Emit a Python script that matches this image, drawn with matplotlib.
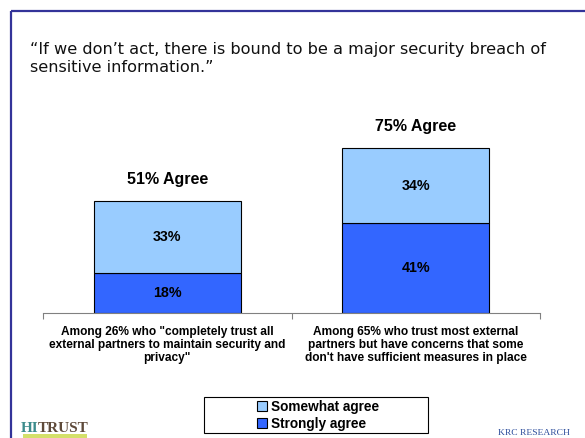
import matplotlib.pyplot as plt
import matplotlib.patches as mpatches
from matplotlib.transforms import blended_transform_factory

# survey results
groups = [
    'Among 26% who "completely trust all\nexternal partners to maintain security and\nprivacy"',
    "Among 65% who trust most external\npartners but have concerns that some\ndon't have sufficient measures in place",
]
strongly = [18, 41]
somewhat = [33, 34]
totals = ['51% Agree', '75% Agree']

title = ("\u201cIf we don\u2019t act, there is bound to be a major security breach of\n"
         "sensitive information.\u201d")

light = '#99ccff'
dark = '#3366ff'
frame_col = '#333399'

fig = plt.figure(figsize=(5.85, 4.38), dpi=100)
fig.patch.set_facecolor('white')

# slide frame: top and left rules
fig.add_artist(plt.Line2D([11 / 585, 1], [1 - 11 / 438, 1 - 11 / 438], color=frame_col, lw=1.6,
                          solid_capstyle='butt'))
fig.add_artist(plt.Line2D([11 / 585, 11 / 585], [0, 1 - 11 / 438], color=frame_col, lw=1.6,
                          solid_capstyle='butt'))

fig.text(30 / 585, 1 - 58.5 / 438, title, fontsize=11.6, family='DejaVu Sans',
         color='#111111', va='center', linespacing=1.2)

ax = fig.add_axes([43 / 585, 1 - 312.7 / 438, 497 / 585, 219 / 438])
x = range(len(groups))
w = 0.59
b1 = ax.bar(x, strongly, w, color=dark, edgecolor='black', linewidth=0.8, label='Strongly agree')
b2 = ax.bar(x, somewhat, w, bottom=strongly, color=light, edgecolor='black', linewidth=0.8,
            label='Somewhat agree')

bold = dict(family='Liberation Sans', weight='bold', color='black')
for i in x:
    ax.text(i, strongly[i] / 2, f'{strongly[i]}%', ha='center', va='center', fontsize=10.3, **bold)
    ax.text(i, strongly[i] + somewhat[i] / 2, f'{somewhat[i]}%', ha='center', va='center',
            fontsize=10.3, **bold)
    ax.text(i, strongly[i] + somewhat[i] + 10, totals[i], ha='center', va='center',
            fontsize=11.5, **bold)

ax.set_xlim(-0.5, 1.5)
ax.set_ylim(0, 100)
for s in ['top', 'right', 'left']:
    ax.spines[s].set_visible(False)
ax.spines['bottom'].set_color('#808080')
ax.set_yticks([])
ax.set_xticks([-0.5, 0.5, 1.5])
ax.set_xticklabels([])
ax.tick_params(axis='x', direction='out', length=4, color='#808080')

tr = blended_transform_factory(ax.transData, fig.transFigure)
for i, g in enumerate(groups):
    ax.text(i, 1 - 345 / 438, g, transform=tr, ha='center', va='center', fontsize=8.6,
            linespacing=1.12, **bold)

# legend in a plain box
fig.add_artist(mpatches.Rectangle((204 / 585, 1 - 433 / 438), 224 / 585, 36 / 438,
                                  transform=fig.transFigure, facecolor='white',
                                  edgecolor='black', lw=0.8))
fig.legend([b2, b1], ['Somewhat agree', 'Strongly agree'], loc='center',
           bbox_to_anchor=(318 / 585, 1 - 415.5 / 438), frameon=False,
           prop=dict(family='Liberation Sans', weight='bold', size=9.8),
           handlelength=0.75, handleheight=0.75, handletextpad=0.3, labelspacing=0.22,
           borderpad=0)

# footer marks
fig.text(21 / 585, 1 - 428 / 438, 'HI', fontsize=11, family='Liberation Serif',
         color='#3d8c8c', va='center', weight='bold')
fig.text(38 / 585, 1 - 428 / 438, 'TRUST', fontsize=11, family='Liberation Serif',
         color='#5e4a3a', va='center', weight='bold')
fig.add_artist(mpatches.Rectangle((23 / 585, 0), 64 / 585, 4 / 438,
                                  transform=fig.transFigure, facecolor='#d4e06a',
                                  edgecolor='none'))
fig.text(570 / 585, 1 - 433 / 438, 'KRC RESEARCH', fontsize=6.8, family='Liberation Serif',
         color='#2b4c9b', ha='right', va='center')

fig.savefig('out.png', dpi=100)
